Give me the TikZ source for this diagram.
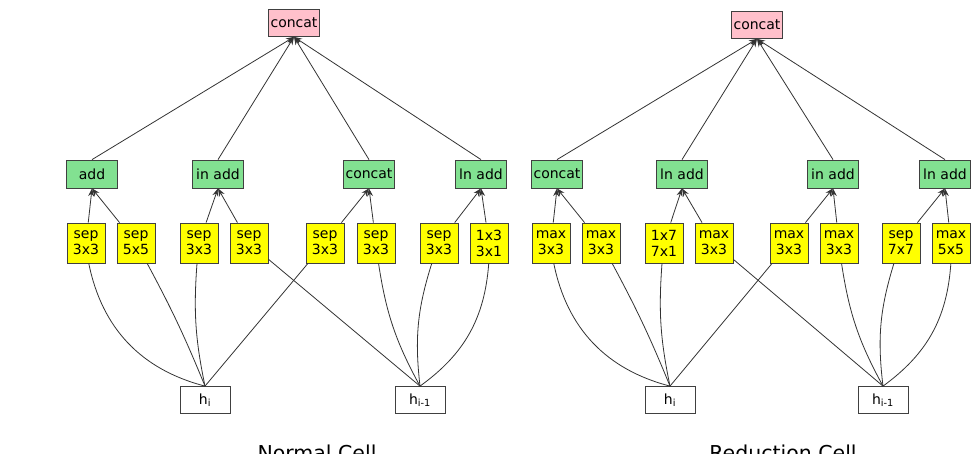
\documentclass[tikz,border=0pt]{standalone}
\usepackage{fontspec}
\setmainfont{DejaVu Sans}
\usetikzlibrary{arrows.meta}

\definecolor{catpink}{RGB}{255,192,203}
\definecolor{addgreen}{RGB}{130,225,145}
\definecolor{opyellow}{RGB}{255,255,0}

\tikzset{
	box/.style={draw=black!75, line width=0.8pt, inner sep=1pt, font=\fontsize{14}{16}\selectfont},
	catbox/.style={box, fill=catpink, minimum width=51pt, minimum height=27pt},
	combbox/.style={box, fill=addgreen, minimum width=51pt, minimum height=28pt},
	opbox/.style={box, fill=opyellow, minimum width=38pt, minimum height=40pt, align=center},
	hbox/.style={box, fill=white, minimum width=50pt, minimum height=27pt},
	edge/.style={draw=black!80, line width=0.8pt},
	arr/.style={edge, -{Stealth[length=8pt,width=6pt]}},
	cellname/.style={anchor=base, font=\fontsize{20.5}{24}\selectfont},
}

\begin{document}
\begin{tikzpicture}[x=1pt,y=-1pt]
				\useasboundingbox (0,0) rectangle (971,453);
				\node[catbox] (catN) at (294,23) {concat};
				\node[catbox] (catR) at (757,25) {concat};
				\foreach \x/\t [count=\i] in {92/add,218/in add,369/concat,481/ln add} {
						\node[combbox] (gN\i) at (\x,174) {\t};
					}
				\foreach \x/\t [count=\i] in {557/concat,682/ln add,833/in add,945/ln add} {
						\node[combbox] (gR\i) at (\x,174) {\t};
					}
				\foreach \x/\a/\b [count=\i] in {86/sep/3x3,136/sep/5x5,199/sep/3x3,249/sep/3x3,325/sep/3x3,376/sep/3x3,439/sep/3x3,489/1x3/3x1} {
						\node[opbox] (oN\i) at (\x,243) {\a\\\b};
					}
				\foreach \x/\a/\b [count=\i] in {551/max/3x3,601/max/3x3,664/1x7/7x1,714/max/3x3,789/max/3x3,839/max/3x3,901/sep/7x7,951/max/5x5} {
						\node[opbox] (oR\i) at (\x,243) {\a\\\b};
					}
				\node[hbox] (hN1) at (205,400) {h\textsubscript{i}};
				\node[hbox] (hN2) at (420,400) {h\textsubscript{i-1}};
				\node[hbox] (hR1) at (670,400) {h\textsubscript{i}};
				\node[hbox] (hR2) at (883,400) {h\textsubscript{i-1}};
				\node[cellname] (nameN) at (317,460) {Normal Cell};
				\node[cellname] (nameR) at (783,460) {Reduction Cell};
				\foreach \c in {N,R} {
						\foreach \i in {1,...,4}
							\draw[arr] (g\c\i.north) -- (cat\c.south);
						\foreach \i/\j in {1/1,2/1,3/2,4/2,5/3,6/3,7/4,8/4}
							\draw[arr] (o\c\i) -- (g\c\j.south);
						\draw[edge] (h\c1.north) to[bend left=32] (o\c1);
						\draw[edge] (h\c1.north) to[bend right=3] (o\c2);
						\draw[edge] (h\c1.north) to[bend left=8] (o\c3);
						\draw[edge] (h\c1.north) -- (o\c5);
						\draw[edge] (h\c2.north) -- (o\c4);
						\draw[edge] (h\c2.north) to[bend left=10] (o\c6);
						\draw[edge] (h\c2.north) to[bend left=12] (o\c7);
						\draw[edge] (h\c2.north) to[bend right=25] (o\c8);
					}
			\end{tikzpicture}
\end{document}
